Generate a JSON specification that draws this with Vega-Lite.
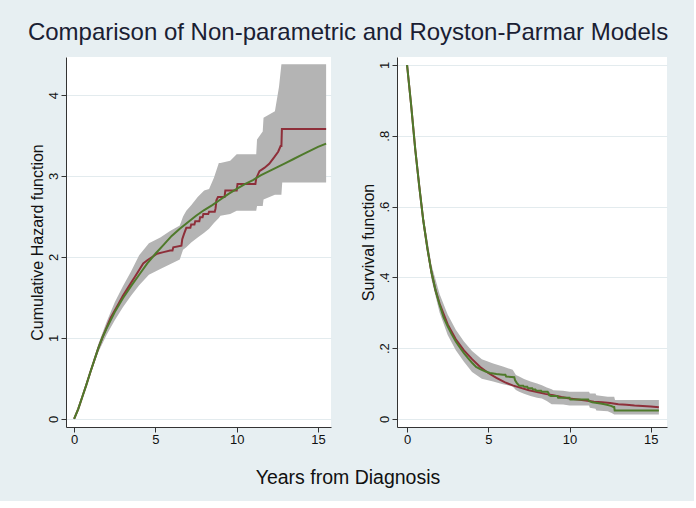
{
  "$schema": "https://vega.github.io/schema/vega-lite/v6.json",
  "background": "#E7EFF2",
  "padding": {"left": 27, "right": 25, "top": 21, "bottom": 13},
  "config": {
    "font": "Liberation Sans, Arial, sans-serif",
    "view": {"stroke": null, "fill": "white"},
    "axis": {"domainColor": "#333333", "tickColor": "#333333", "labelColor": "#111111", "titleColor": "#111111", "labelFontSize": 13, "titleFontSize": 16, "titleFontWeight": "normal", "tickSize": 5, "gridColor": "#E3EBEE", "domainWidth": 1, "tickWidth": 1, "labelFlush": false},
    "title": {"fontWeight": "normal"}
  },
  "title": {"text": "Comparison of Non-parametric and Royston-Parmar Models", "fontSize": 24, "color": "#1a2033", "anchor": "middle", "offset": 12},
  "datasets": {
    "hazBand": [
      {"t": 0, "lo": 0, "hi": 0}, {"t": 0.5, "lo": 0.25, "hi": 0.29}, {"t": 1.0, "lo": 0.55, "hi": 0.61}, {"t": 1.5, "lo": 0.83, "hi": 0.93},
      {"t": 2.0, "lo": 1.04, "hi": 1.2}, {"t": 2.5, "lo": 1.22, "hi": 1.44}, {"t": 3.0, "lo": 1.38, "hi": 1.64}, {"t": 3.5, "lo": 1.52, "hi": 1.82},
      {"t": 4.0, "lo": 1.65, "hi": 2.02}, {"t": 4.6, "lo": 1.78, "hi": 2.17}, {"t": 5.3, "lo": 1.85, "hi": 2.24}, {"t": 5.9, "lo": 1.91, "hi": 2.32},
      {"t": 6.5, "lo": 1.97, "hi": 2.39}, {"t": 6.7, "lo": 2.09, "hi": 2.5}, {"t": 6.9, "lo": 2.12, "hi": 2.57}, {"t": 7.2, "lo": 2.18, "hi": 2.64},
      {"t": 7.6, "lo": 2.24, "hi": 2.74}, {"t": 8.0, "lo": 2.3, "hi": 2.82}, {"t": 8.3, "lo": 2.35, "hi": 2.84}, {"t": 8.6, "lo": 2.42, "hi": 2.98},
      {"t": 8.9, "lo": 2.48, "hi": 3.16}, {"t": 9.0, "lo": 2.51, "hi": 3.16}, {"t": 9.6, "lo": 2.53, "hi": 3.19}, {"t": 10.0, "lo": 2.57, "hi": 3.27},
      {"t": 11.2, "lo": 2.57, "hi": 3.27}, {"t": 11.25, "lo": 2.63, "hi": 3.45}, {"t": 11.6, "lo": 2.63, "hi": 3.55}, {"t": 11.65, "lo": 2.71, "hi": 3.72},
      {"t": 12.35, "lo": 2.77, "hi": 3.8}, {"t": 12.6, "lo": 2.77, "hi": 4.1}, {"t": 12.75, "lo": 2.77, "hi": 4.38}, {"t": 12.8, "lo": 2.92, "hi": 4.38},
      {"t": 15.5, "lo": 2.92, "hi": 4.38}
    ],
    "hazNA": [
      {"t": 0, "v": 0}, {"t": 0.25, "v": 0.12}, {"t": 0.5, "v": 0.27}, {"t": 0.75, "v": 0.42}, {"t": 1, "v": 0.58}, {"t": 1.25, "v": 0.73},
      {"t": 1.5, "v": 0.88}, {"t": 1.75, "v": 1.01}, {"t": 2, "v": 1.13}, {"t": 2.25, "v": 1.25}, {"t": 2.5, "v": 1.34}, {"t": 2.75, "v": 1.43},
      {"t": 3, "v": 1.52}, {"t": 3.25, "v": 1.6}, {"t": 3.5, "v": 1.68}, {"t": 3.75, "v": 1.76}, {"t": 4, "v": 1.84}, {"t": 4.25, "v": 1.92},
      {"t": 4.5, "v": 1.96}, {"t": 4.8, "v": 2.0}, {"t": 5.1, "v": 2.04}, {"t": 5.5, "v": 2.06}, {"t": 5.9, "v": 2.08}, {"t": 6.05, "v": 2.08},
      {"t": 6.1, "v": 2.12}, {"t": 6.6, "v": 2.14}, {"t": 6.65, "v": 2.22}, {"t": 6.75, "v": 2.28}, {"t": 6.9, "v": 2.36}, {"t": 7.15, "v": 2.36},
      {"t": 7.2, "v": 2.4}, {"t": 7.4, "v": 2.4}, {"t": 7.45, "v": 2.44}, {"t": 7.7, "v": 2.44}, {"t": 7.75, "v": 2.49}, {"t": 7.9, "v": 2.49},
      {"t": 7.95, "v": 2.53}, {"t": 8.25, "v": 2.53}, {"t": 8.3, "v": 2.56}, {"t": 8.65, "v": 2.56}, {"t": 8.7, "v": 2.6}, {"t": 8.75, "v": 2.7},
      {"t": 8.85, "v": 2.74}, {"t": 9.25, "v": 2.74}, {"t": 9.3, "v": 2.82}, {"t": 10.0, "v": 2.82}, {"t": 10.05, "v": 2.9}, {"t": 11.15, "v": 2.9},
      {"t": 11.2, "v": 2.97}, {"t": 11.4, "v": 3.06}, {"t": 11.7, "v": 3.1}, {"t": 12.0, "v": 3.15}, {"t": 12.3, "v": 3.23}, {"t": 12.55, "v": 3.3},
      {"t": 12.7, "v": 3.37}, {"t": 12.75, "v": 3.37}, {"t": 12.78, "v": 3.58}, {"t": 15.5, "v": 3.58}
    ],
    "hazRP": [
      {"t": 0, "v": 0}, {"t": 0.25, "v": 0.12}, {"t": 0.5, "v": 0.27}, {"t": 0.75, "v": 0.42}, {"t": 1, "v": 0.58}, {"t": 1.25, "v": 0.73},
      {"t": 1.5, "v": 0.88}, {"t": 1.75, "v": 1.01}, {"t": 2, "v": 1.12}, {"t": 2.5, "v": 1.32}, {"t": 3, "v": 1.49}, {"t": 3.5, "v": 1.64},
      {"t": 4, "v": 1.78}, {"t": 4.5, "v": 1.92}, {"t": 5, "v": 2.04}, {"t": 5.5, "v": 2.15}, {"t": 6, "v": 2.26}, {"t": 6.5, "v": 2.35},
      {"t": 7, "v": 2.43}, {"t": 7.5, "v": 2.51}, {"t": 8, "v": 2.58}, {"t": 8.5, "v": 2.64}, {"t": 9, "v": 2.71}, {"t": 9.5, "v": 2.78},
      {"t": 10, "v": 2.84}, {"t": 10.5, "v": 2.9}, {"t": 11, "v": 2.95}, {"t": 11.5, "v": 3.01}, {"t": 12, "v": 3.06}, {"t": 12.5, "v": 3.11},
      {"t": 13, "v": 3.16}, {"t": 13.5, "v": 3.21}, {"t": 14, "v": 3.26}, {"t": 14.5, "v": 3.31}, {"t": 15, "v": 3.36}, {"t": 15.5, "v": 3.4}
    ],
    "survBand": [
      {"t": 0, "lo": 1, "hi": 1}, {"t": 0.5, "lo": 0.748, "hi": 0.779}, {"t": 1.0, "lo": 0.543, "hi": 0.577}, {"t": 1.5, "lo": 0.395, "hi": 0.436},
      {"t": 2.0, "lo": 0.301, "hi": 0.353}, {"t": 2.5, "lo": 0.237, "hi": 0.295}, {"t": 3.0, "lo": 0.194, "hi": 0.252}, {"t": 3.5, "lo": 0.162, "hi": 0.219},
      {"t": 4.0, "lo": 0.133, "hi": 0.192}, {"t": 4.6, "lo": 0.114, "hi": 0.169}, {"t": 5.3, "lo": 0.106, "hi": 0.157}, {"t": 5.9, "lo": 0.098, "hi": 0.148},
      {"t": 6.5, "lo": 0.092, "hi": 0.139}, {"t": 6.7, "lo": 0.082, "hi": 0.124}, {"t": 6.9, "lo": 0.077, "hi": 0.12}, {"t": 7.2, "lo": 0.071, "hi": 0.113},
      {"t": 7.6, "lo": 0.065, "hi": 0.106}, {"t": 8.0, "lo": 0.06, "hi": 0.1}, {"t": 8.3, "lo": 0.058, "hi": 0.095}, {"t": 8.6, "lo": 0.051, "hi": 0.089},
      {"t": 8.9, "lo": 0.042, "hi": 0.084}, {"t": 9.0, "lo": 0.042, "hi": 0.081}, {"t": 9.6, "lo": 0.041, "hi": 0.08}, {"t": 10.0, "lo": 0.038, "hi": 0.077},
      {"t": 11.2, "lo": 0.038, "hi": 0.077}, {"t": 11.25, "lo": 0.032, "hi": 0.072}, {"t": 11.6, "lo": 0.029, "hi": 0.072}, {"t": 11.65, "lo": 0.024, "hi": 0.067},
      {"t": 12.35, "lo": 0.022, "hi": 0.063}, {"t": 12.6, "lo": 0.017, "hi": 0.063}, {"t": 12.75, "lo": 0.0125, "hi": 0.063}, {"t": 12.8, "lo": 0.0125, "hi": 0.054},
      {"t": 15.5, "lo": 0.0125, "hi": 0.054}
    ],
    "survKM": [
      {"t": 0, "v": 1}, {"t": 0.25, "v": 0.887}, {"t": 0.5, "v": 0.763}, {"t": 0.75, "v": 0.657}, {"t": 1, "v": 0.56}, {"t": 1.25, "v": 0.482},
      {"t": 1.5, "v": 0.415}, {"t": 1.75, "v": 0.364}, {"t": 2, "v": 0.323}, {"t": 2.25, "v": 0.287}, {"t": 2.5, "v": 0.262}, {"t": 2.75, "v": 0.239},
      {"t": 3, "v": 0.219}, {"t": 3.25, "v": 0.202}, {"t": 3.5, "v": 0.186}, {"t": 3.75, "v": 0.172}, {"t": 4, "v": 0.159}, {"t": 4.25, "v": 0.147},
      {"t": 4.5, "v": 0.141}, {"t": 4.8, "v": 0.135}, {"t": 5.1, "v": 0.13}, {"t": 5.5, "v": 0.127}, {"t": 5.9, "v": 0.125}, {"t": 6.05, "v": 0.125},
      {"t": 6.1, "v": 0.12}, {"t": 6.6, "v": 0.118}, {"t": 6.65, "v": 0.109}, {"t": 6.75, "v": 0.102}, {"t": 6.9, "v": 0.094}, {"t": 7.15, "v": 0.094},
      {"t": 7.2, "v": 0.091}, {"t": 7.4, "v": 0.091}, {"t": 7.45, "v": 0.087}, {"t": 7.7, "v": 0.087}, {"t": 7.75, "v": 0.083}, {"t": 7.9, "v": 0.083},
      {"t": 7.95, "v": 0.08}, {"t": 8.25, "v": 0.08}, {"t": 8.3, "v": 0.077}, {"t": 8.65, "v": 0.077}, {"t": 8.7, "v": 0.074}, {"t": 8.75, "v": 0.067},
      {"t": 8.85, "v": 0.065}, {"t": 9.25, "v": 0.065}, {"t": 9.3, "v": 0.06}, {"t": 10.0, "v": 0.06}, {"t": 10.05, "v": 0.055}, {"t": 11.15, "v": 0.055},
      {"t": 11.2, "v": 0.051}, {"t": 11.4, "v": 0.047}, {"t": 11.7, "v": 0.045}, {"t": 12.0, "v": 0.043}, {"t": 12.3, "v": 0.04}, {"t": 12.55, "v": 0.037},
      {"t": 12.7, "v": 0.034}, {"t": 12.75, "v": 0.034}, {"t": 12.78, "v": 0.024}, {"t": 15.5, "v": 0.024}
    ],
    "survRP": [
      {"t": 0, "v": 1}, {"t": 0.25, "v": 0.887}, {"t": 0.5, "v": 0.763}, {"t": 0.75, "v": 0.657}, {"t": 1, "v": 0.56}, {"t": 1.25, "v": 0.482},
      {"t": 1.5, "v": 0.415}, {"t": 1.75, "v": 0.364}, {"t": 2, "v": 0.326}, {"t": 2.5, "v": 0.267}, {"t": 3, "v": 0.225}, {"t": 3.5, "v": 0.194},
      {"t": 4, "v": 0.169}, {"t": 4.5, "v": 0.147}, {"t": 5, "v": 0.13}, {"t": 5.5, "v": 0.116}, {"t": 6, "v": 0.104}, {"t": 6.5, "v": 0.095},
      {"t": 7, "v": 0.088}, {"t": 7.5, "v": 0.081}, {"t": 8, "v": 0.076}, {"t": 8.5, "v": 0.071}, {"t": 9, "v": 0.067}, {"t": 9.5, "v": 0.062},
      {"t": 10, "v": 0.058}, {"t": 10.5, "v": 0.055}, {"t": 11, "v": 0.052}, {"t": 11.5, "v": 0.049}, {"t": 12, "v": 0.047}, {"t": 12.5, "v": 0.045},
      {"t": 13, "v": 0.042}, {"t": 13.5, "v": 0.04}, {"t": 14, "v": 0.038}, {"t": 14.5, "v": 0.037}, {"t": 15, "v": 0.035}, {"t": 15.5, "v": 0.033}
    ]
  },
  "vconcat": [
    {
      "title": {"text": "Years from Diagnosis", "orient": "bottom", "fontSize": 19.5, "anchor": "middle", "offset": 23, "color": "#111111", "fontWeight": "normal"},
      "spacing": 66,
      "bounds": "flush",
      "hconcat": [
        {
          "width": 265,
          "height": 370,
          "encoding": {
            "x": {"field": "t", "type": "quantitative", "scale": {"domain": [-0.5, 15.8], "nice": false, "zero": false},
                  "axis": {"values": [0, 5, 10, 15], "title": null, "grid": false, "labelPadding": 1}}
          },
          "layer": [
            {"data": {"name": "hazBand"}, "mark": {"type": "area", "color": "#B4B4B4", "opacity": 1},
             "encoding": {"y": {"field": "lo", "type": "quantitative", "title": "Cumulative Hazard function",
                                "scale": {"domain": [-0.1, 4.47], "nice": false, "zero": false},
                                "axis": {"values": [0, 1, 2, 3, 4], "format": "d", "labelAngle": -90, "grid": true, "titlePadding": 2, "labelPadding": 1}},
                          "y2": {"field": "hi"}}},
            {"data": {"name": "hazNA"}, "mark": {"type": "line", "color": "#8E2F3A", "strokeWidth": 2},
             "encoding": {"y": {"field": "v", "type": "quantitative", "title": "Cumulative Hazard function"}}},
            {"data": {"name": "hazRP"}, "mark": {"type": "line", "color": "#4F7A2B", "strokeWidth": 2},
             "encoding": {"y": {"field": "v", "type": "quantitative", "title": "Cumulative Hazard function"}}}
          ]
        },
        {
          "width": 270,
          "height": 370,
          "encoding": {
            "x": {"field": "t", "type": "quantitative", "scale": {"domain": [-0.62, 16.0], "nice": false, "zero": false},
                  "axis": {"values": [0, 5, 10, 15], "title": null, "grid": false, "labelPadding": 1}}
          },
          "layer": [
            {"data": {"name": "survBand"}, "mark": {"type": "area", "color": "#B4B4B4", "opacity": 1},
             "encoding": {"y": {"field": "lo", "type": "quantitative", "title": "Survival function",
                                "scale": {"domain": [-0.0226, 1.0226], "nice": false, "zero": false},
                                "axis": {"values": [0, 0.2, 0.4, 0.6, 0.8, 1], "labelAngle": -90, "grid": true, "titlePadding": 2, "labelPadding": 1,
                                         "labelExpr": "datum.value == 0 ? '0' : datum.value == 1 ? '1' : replace(format(datum.value, '.1f'), '0.', '.')"}},
                          "y2": {"field": "hi"}}},
            {"data": {"name": "survRP"}, "mark": {"type": "line", "color": "#8E2F3A", "strokeWidth": 2},
             "encoding": {"y": {"field": "v", "type": "quantitative", "title": "Survival function"}}},
            {"data": {"name": "survKM"}, "mark": {"type": "line", "color": "#4F7A2B", "strokeWidth": 2},
             "encoding": {"y": {"field": "v", "type": "quantitative", "title": "Survival function"}}}
          ]
        }
      ]
    }
  ]
}
